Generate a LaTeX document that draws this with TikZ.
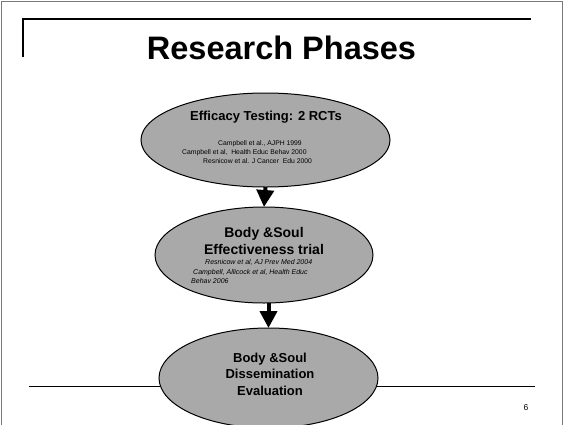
\documentclass[tikz,border=0pt]{standalone}
\usepackage{fontspec}
\setmainfont{Liberation Sans}
\usetikzlibrary{positioning}
\usetikzlibrary{calc}
\usetikzlibrary{shapes.geometric}
\usetikzlibrary{arrows.meta}

\definecolor{phasegray}{HTML}{A9A9A9}
\definecolor{framegray}{HTML}{7A7A7A}

\tikzset{
  phase/.style={ellipse, draw=black, fill=phasegray, line width=1pt,
    inner sep=0pt, outer sep=0pt},
  phasetitle/.style={font=\bfseries\fontsize{13}{15}\selectfont, anchor=base,
    inner sep=0pt},
  phaseref/.style={font=\fontsize{6.8}{8}\selectfont, anchor=base west,
    inner sep=0pt},
  flow/.style={line width=4pt, -{Triangle[width=17pt,length=17pt]}}
}

\begin{document}
\begin{tikzpicture}[x=1pt, y=-1pt]
  \useasboundingbox (0,0) rectangle (563,424);

  % slide frame and rules
  \draw[framegray, line width=1pt] (1,426) -- (1,1) -- (562,1) -- (562,426);
  \draw[line width=1.2pt] (23,57) -- (23,19) -- (531,19);
  \coordinate (footL) at (29,386);
  \coordinate (footR) at (535,386);
  \draw[line width=1pt] (footL) -- (footR);

  \node[font=\bfseries\fontsize{32.5}{36}\selectfont, anchor=base, inner sep=0pt]
    (title) at (281.5,59) {Research Phases};

  % the three phases
  \node[phase, minimum width=249pt, minimum height=94pt] (efficacy) at (265.5,140) {};
  \node[phase, minimum width=218pt, minimum height=96pt] (effect) at (264,255) {};
  \node[phase, minimum width=219pt, minimum height=100pt] (dissem) at (268.5,378) {};

  \node[phasetitle] (efficacyT) at (266,120) {Efficacy Testing: 2 RCTs};
  \node[phaseref] (efficacyR1) at (218,145) {Campbell et al., AJPH 1999};
  \node[phaseref] (efficacyR2) at (182,154) {Campbell et al,\ \ Health Educ Behav 2000};
  \node[phaseref] (efficacyR3) at (203,163) {Resnicow et al. J Cancer\ \ Edu 2000};

  \node[phasetitle, font=\bfseries\fontsize{14}{16}\selectfont] (effectT1) at (264,237) {Body \&Soul};
  \node[phasetitle, font=\bfseries\fontsize{14}{16}\selectfont] (effectT2) at (264,254) {Effectiveness trial};
  \node[phaseref, font=\itshape\fontsize{7}{8}\selectfont] (effectR1) at (205,264)
    {Resnicow et al, AJ Prev Med 2004};
  \node[phaseref, font=\itshape\fontsize{7}{8}\selectfont] (effectR2) at (193,274)
    {Campbell, Allicock et al, Health Educ};
  \node[phaseref, font=\itshape\fontsize{7}{8}\selectfont] (effectR3) at (191,283)
    {Behav 2006};

  \node[phasetitle] (dissemT1) at (270,362) {Body \&Soul};
  \node[phasetitle] (dissemT2) at (270,378.5) {Dissemination};
  \node[phasetitle] (dissemT3) at (270,395) {Evaluation};

  \draw[flow] (efficacy.south) -- (effect.north);
  \draw[flow] (effect.south -| dissem.north) -- (dissem.north);

  \node[font=\fontsize{8.5}{10}\selectfont, anchor=base, inner sep=0pt]
    (pagenum) at (526,410) {6};
\end{tikzpicture}
\end{document}
